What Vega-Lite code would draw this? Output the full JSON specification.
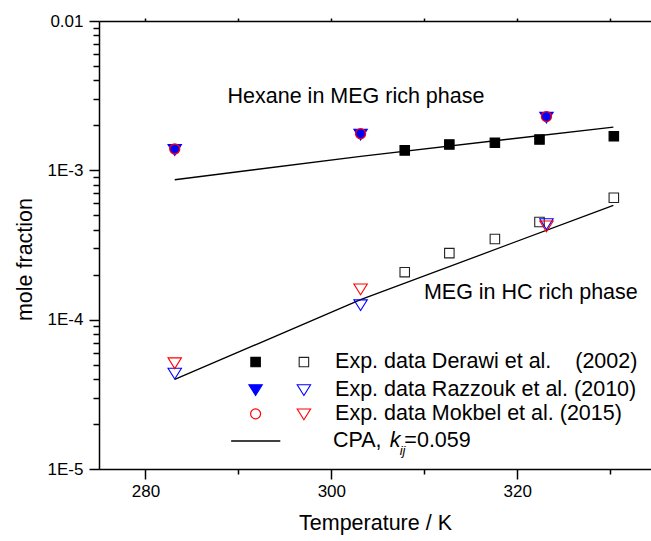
{
  "$schema": "https://vega.github.io/schema/vega-lite/v6.json",
  "width": 552,
  "height": 448,
  "autosize": "none",
  "padding": {"left": 99, "top": 21, "right": 0, "bottom": 72},
  "background": "white",
  "config": {
    "view": {"stroke": null},
    "font": "Liberation Sans",
    "axis": {
      "grid": false,
      "domainColor": "black",
      "domainWidth": 1.5,
      "tickColor": "black",
      "tickWidth": 1.5,
      "labelColor": "black",
      "titleColor": "black",
      "labelFont": "Liberation Sans",
      "titleFont": "Liberation Sans",
      "labelFontSize": 17,
      "titleFontSize": 21.5,
      "titleFontWeight": "normal",
      "labelOverlap": false,
      "labelFlush": false,
      "labelBound": false
    }
  },
  "resolve": {"axis": {"x": "independent", "y": "independent"}},
  "datasets": {
    "points": [
      {"T": 307.9, "x": 0.00136, "series": "Derawi hexane"},
      {"T": 312.7, "x": 0.00149, "series": "Derawi hexane"},
      {"T": 317.6, "x": 0.00153, "series": "Derawi hexane"},
      {"T": 322.4, "x": 0.00161, "series": "Derawi hexane"},
      {"T": 330.4, "x": 0.00169, "series": "Derawi hexane"},
      {"T": 307.9, "x": 0.000208, "series": "Derawi MEG"},
      {"T": 312.7, "x": 0.000279, "series": "Derawi MEG"},
      {"T": 317.6, "x": 0.000347, "series": "Derawi MEG"},
      {"T": 322.4, "x": 0.000451, "series": "Derawi MEG"},
      {"T": 330.4, "x": 0.000655, "series": "Derawi MEG"},
      {"T": 283.15, "x": 0.00138, "series": "Razzouk hexane"},
      {"T": 303.15, "x": 0.00175, "series": "Razzouk hexane"},
      {"T": 323.15, "x": 0.00227, "series": "Razzouk hexane"},
      {"T": 283.15, "x": 0.0000439, "series": "Razzouk MEG"},
      {"T": 303.15, "x": 0.000126, "series": "Razzouk MEG"},
      {"T": 323.15, "x": 0.00044, "series": "Razzouk MEG"},
      {"T": 283.15, "x": 0.00139, "series": "Mokbel hexane"},
      {"T": 303.15, "x": 0.00176, "series": "Mokbel hexane"},
      {"T": 323.15, "x": 0.00229, "series": "Mokbel hexane"},
      {"T": 283.15, "x": 0.0000515, "series": "Mokbel MEG"},
      {"T": 303.15, "x": 0.000161, "series": "Mokbel MEG"},
      {"T": 323.15, "x": 0.000425, "series": "Mokbel MEG"}
    ],
    "cpa": [
      {"T": 283.15, "x": 0.000865, "series": "CPA hexane"},
      {"T": 303.15, "x": 0.00124, "series": "CPA hexane"},
      {"T": 330.35, "x": 0.00195, "series": "CPA hexane"},
      {"T": 283.15, "x": 0.0000398, "series": "CPA MEG"},
      {"T": 303.15, "x": 0.000136, "series": "CPA MEG"},
      {"T": 330.35, "x": 0.000583, "series": "CPA MEG"}
    ],
    "legendSymbols": [
      {"T": 291.85, "x": 0.000052, "series": "Derawi hexane"},
      {"T": 297.05, "x": 0.000052, "series": "Derawi MEG"},
      {"T": 291.85, "x": 0.000034, "series": "Razzouk hexane"},
      {"T": 297.05, "x": 0.000034, "series": "Razzouk MEG"},
      {"T": 291.85, "x": 0.0000234, "series": "Mokbel hexane legend"},
      {"T": 297.05, "x": 0.0000234, "series": "Mokbel MEG"}
    ],
    "legendLine": [
      {"T": 289.22, "x": 0.0000154},
      {"T": 294.51, "x": 0.0000154}
    ],
    "texts": [
      {"T": 288.83, "x": 0.00309, "label": "Hexane in MEG rich phase"},
      {"T": 309.96, "x": 0.00015, "label": "MEG in HC rich phase"},
      {"T": 300.4, "x": 0.000052, "label": "Exp. data Derawi et al.\u00a0\u00a0\u00a0\u00a0(2002)"},
      {"T": 300.4, "x": 0.000034, "label": "Exp. data Razzouk et al. (2010)"},
      {"T": 300.4, "x": 0.0000234, "label": "Exp. data Mokbel et al. (2015)"},
      {"T": 300.17, "x": 0.0000154, "label": "CPA,"},
      {"T": 307.86, "x": 0.0000154, "label": "=0.059"}
    ],
    "italicK": [
      {"T": 306.28, "x": 0.0000154, "label": "k"}
    ],
    "italicSub": [
      {"T": 307.35, "x": 0.0000154, "label": "ij"}
    ]
  },
  "layer": [
    {
      "data": {"name": "cpa"},
      "mark": {"type": "line", "color": "black", "strokeWidth": 1.3},
      "encoding": {
        "x": {
          "field": "T", "type": "quantitative",
          "scale": {"domain": [275, 334.4], "nice": false, "zero": false},
          "axis": {
            "orient": "bottom",
            "values": [280, 300, 320],
            "tickSize": 10,
            "labelPadding": 4,
            "title": "Temperature / K",
            "titleY": 54,
            "titleBaseline": "middle"
          }
        },
        "y": {
          "field": "x", "type": "quantitative",
          "scale": {"type": "log", "domain": [0.00001, 0.01], "nice": false},
          "axis": {
            "orient": "left",
            "values": [0.00001, 0.0001, 0.001, 0.01],
            "labelExpr": "datum.value > 0.005 ? '0.01' : '1E' + round(log(datum.value)/LN10)",
            "tickSize": 10,
            "labelPadding": 6,
            "title": "mole fraction",
            "titleX": -74,
            "titleY": 238,
            "titleBaseline": "middle",
            "titleAlign": "center"
          }
        },
        "detail": {"field": "series", "type": "nominal"}
      }
    },
    {
      "data": {"name": "legendLine"},
      "mark": {"type": "line", "color": "black", "strokeWidth": 1.3},
      "encoding": {
        "x": {
          "field": "T", "type": "quantitative",
          "axis": {"orient": "bottom", "values": [290, 310, 330], "tickSize": 5, "labels": false, "domain": false, "title": null}
        },
        "y": {
          "field": "x", "type": "quantitative",
          "axis": {
            "orient": "left",
            "values": [0.00002, 0.00003, 0.00004, 0.00005, 0.00006, 0.00007, 0.00008, 0.00009, 0.0002, 0.0003, 0.0004, 0.0005, 0.0006, 0.0007, 0.0008, 0.0009, 0.002, 0.003, 0.004, 0.005, 0.006, 0.007, 0.008, 0.009],
            "tickSize": 6, "labels": false, "domain": false, "title": null
          }
        }
      }
    },
    {
      "data": {"name": "points"},
      "transform": [{"filter": {"field": "series", "oneOf": ["Derawi hexane", "Derawi MEG"]}}],
      "mark": {"type": "point", "shape": "square", "size": 90, "strokeWidth": 1.1, "filled": false, "opacity": 1},
      "encoding": {
        "x": {
          "field": "T", "type": "quantitative",
          "axis": {"orient": "top", "labels": false, "title": null, "values": [280, 290, 300, 310, 320, 330], "tickSize": 3}
        },
        "y": {"field": "x", "type": "quantitative", "axis": null},
        "fill": {"field": "series", "type": "nominal", "legend": null,
          "scale": {"domain": ["Derawi hexane", "Derawi MEG", "Razzouk hexane", "Razzouk MEG", "Mokbel hexane", "Mokbel MEG", "Mokbel hexane legend"],
                    "range": ["black", "transparent", "blue", "transparent", "blue", "transparent", "transparent"]}},
        "stroke": {"field": "series", "type": "nominal", "legend": null,
          "scale": {"domain": ["Derawi hexane", "Derawi MEG", "Razzouk hexane", "Razzouk MEG", "Mokbel hexane", "Mokbel MEG", "Mokbel hexane legend"],
                    "range": ["black", "#222222", "blue", "blue", "red", "red", "red"]}}
      }
    },
    {
      "data": {"name": "points"},
      "transform": [{"filter": {"field": "series", "oneOf": ["Razzouk hexane", "Razzouk MEG", "Mokbel MEG"]}}],
      "mark": {"type": "point", "shape": "M-1,-0.72L1,-0.72L0,0.88Z", "size": 180, "strokeWidth": 1.1, "filled": false, "opacity": 1},
      "encoding": {
        "x": {"field": "T", "type": "quantitative", "axis": null},
        "y": {"field": "x", "type": "quantitative", "axis": null},
        "fill": {"field": "series", "type": "nominal", "legend": null},
        "stroke": {"field": "series", "type": "nominal", "legend": null}
      }
    },
    {
      "data": {"name": "points"},
      "transform": [{"filter": {"field": "series", "equal": "Mokbel hexane"}}],
      "mark": {"type": "point", "shape": "circle", "size": 100, "strokeWidth": 1.3, "filled": false, "opacity": 1},
      "encoding": {
        "x": {"field": "T", "type": "quantitative", "axis": null},
        "y": {"field": "x", "type": "quantitative", "axis": null},
        "fill": {"field": "series", "type": "nominal", "legend": null},
        "stroke": {"field": "series", "type": "nominal", "legend": null}
      }
    },
    {
      "data": {"name": "legendSymbols"},
      "transform": [{"filter": {"field": "series", "oneOf": ["Derawi hexane", "Derawi MEG"]}}],
      "mark": {"type": "point", "shape": "square", "size": 90, "strokeWidth": 1.1, "filled": false, "opacity": 1},
      "encoding": {
        "x": {"field": "T", "type": "quantitative", "axis": null},
        "y": {"field": "x", "type": "quantitative", "axis": null},
        "fill": {"field": "series", "type": "nominal", "legend": null},
        "stroke": {"field": "series", "type": "nominal", "legend": null}
      }
    },
    {
      "data": {"name": "legendSymbols"},
      "transform": [{"filter": {"field": "series", "oneOf": ["Razzouk hexane", "Razzouk MEG", "Mokbel MEG"]}}],
      "mark": {"type": "point", "shape": "M-1,-0.72L1,-0.72L0,0.88Z", "size": 180, "strokeWidth": 1.1, "filled": false, "opacity": 1},
      "encoding": {
        "x": {"field": "T", "type": "quantitative", "axis": null},
        "y": {"field": "x", "type": "quantitative", "axis": null},
        "fill": {"field": "series", "type": "nominal", "legend": null},
        "stroke": {"field": "series", "type": "nominal", "legend": null}
      }
    },
    {
      "data": {"name": "legendSymbols"},
      "transform": [{"filter": {"field": "series", "equal": "Mokbel hexane legend"}}],
      "mark": {"type": "point", "shape": "circle", "size": 100, "strokeWidth": 1.2, "filled": false, "opacity": 1},
      "encoding": {
        "x": {"field": "T", "type": "quantitative", "axis": null},
        "y": {"field": "x", "type": "quantitative", "axis": null},
        "fill": {"field": "series", "type": "nominal", "legend": null},
        "stroke": {"field": "series", "type": "nominal", "legend": null}
      }
    },
    {
      "data": {"name": "texts"},
      "mark": {"type": "text", "align": "left", "baseline": "middle", "fontSize": 21.5, "font": "Liberation Sans", "color": "black"},
      "encoding": {
        "x": {"field": "T", "type": "quantitative", "axis": null},
        "y": {"field": "x", "type": "quantitative", "axis": null},
        "text": {"field": "label", "type": "nominal"}
      }
    },
    {
      "data": {"name": "italicK"},
      "mark": {"type": "text", "align": "left", "baseline": "middle", "fontSize": 21.5, "fontStyle": "italic", "font": "Liberation Sans", "color": "black"},
      "encoding": {
        "x": {"field": "T", "type": "quantitative", "axis": null},
        "y": {"field": "x", "type": "quantitative", "axis": null},
        "text": {"field": "label", "type": "nominal"}
      }
    },
    {
      "data": {"name": "italicSub"},
      "mark": {"type": "text", "align": "left", "baseline": "middle", "fontSize": 13, "fontStyle": "italic", "dy": 10, "font": "Liberation Sans", "color": "black"},
      "encoding": {
        "x": {"field": "T", "type": "quantitative", "axis": null},
        "y": {"field": "x", "type": "quantitative", "axis": null},
        "text": {"field": "label", "type": "nominal"}
      }
    }
  ]
}
